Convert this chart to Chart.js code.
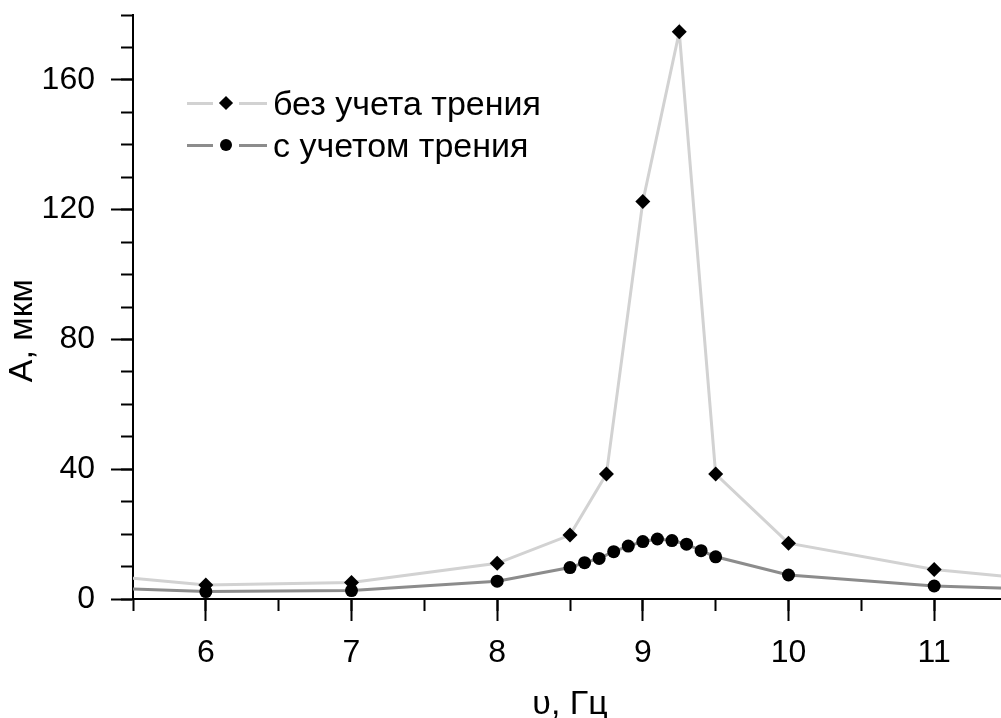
<!DOCTYPE html>
<html lang="ru">
  <head>
    <meta charset="UTF-8" />
    <title>Амплитуда колебаний</title>
    <script src="https://cdn.jsdelivr.net/npm/chart.js"></script>
    <style>
      html,
      body {
        margin: 0;
        padding: 0;
        background: #fff;
        overflow: hidden;
      }
      .wrap {
        position: relative;
        width: 1010px;
        height: 718px;
      }
      .legend {
        position: absolute;
        left: 187px;
        top: 82px;
        font-family: "Liberation Sans", Arial, sans-serif;
        font-size: 34px;
        color: #000;
      }
      .legend .row {
        display: flex;
        align-items: center;
        height: 42px;
      }
      .legend .seg {
        height: 3px;
      }
      .legend .mark {
        width: 26px;
        display: flex;
        justify-content: center;
        align-items: center;
      }
      .legend .diamond {
        width: 10px;
        height: 10px;
        background: #000;
        transform: rotate(45deg);
      }
      .legend .dot {
        width: 12px;
        height: 12px;
        border-radius: 50%;
        background: #000;
      }
      .legend .label {
        margin-left: 6px;
      }
    </style>
  </head>
  <body>
    <div class="wrap">
      <canvas id="ampChart"></canvas>
      <div class="legend">
        <div class="row">
          <div class="seg" style="width: 26px; background: #d2d2d2"></div>
          <div class="mark"><div class="diamond"></div></div>
          <div class="seg" style="width: 28px; background: #d2d2d2"></div>
          <span class="label">без учета трения</span>
        </div>
        <div class="row">
          <div class="seg" style="width: 26px; background: #8c8c8c"></div>
          <div class="mark"><div class="dot"></div></div>
          <div class="seg" style="width: 28px; background: #8c8c8c"></div>
          <span class="label">с учетом трения</span>
        </div>
      </div>
    </div>

    <script>
      // frequency, Hz (first and last entries sit on the axis limits)
      const freqFree = [5.5, 6, 7, 8, 8.5, 8.75, 9, 9.25, 9.5, 10, 11, 11.5];
      const ampFree = [6.4, 4.3, 5.1, 11.0, 19.7, 38.5, 122.5, 174.8, 38.5, 17.2, 9.1, 6.9];

      const freqFric = [5.5, 6, 7, 8, 8.5, 8.6, 8.7, 8.8, 8.9, 9.0, 9.1, 9.2, 9.3, 9.4, 9.5, 10, 11, 11.5];
      const ampFric = [3.1, 2.3, 2.6, 5.5, 9.7, 11.2, 12.5, 14.6, 16.3, 17.7, 18.5, 18.0, 16.9, 14.9, 13.0, 7.4, 4.0, 3.3];

      const X_MIN = 5.5, X_MAX = 11.5;
      const Y_MIN = 0, Y_MAX = 180;
      const xMajorTicks = [6, 7, 8, 9, 10, 11];
      const xMinorTicks = [5.5, 6, 6.5, 7, 7.5, 8, 8.5, 9, 9.5, 10, 10.5, 11, 11.5];
      const yMajorTicks = [0, 40, 80, 120, 160];
      const yMinorTicks = [0, 10, 20, 30, 40, 50, 60, 70, 80, 90, 100, 110, 120, 130, 140, 150, 160, 170, 180];

      const FONT = "'Liberation Sans', Arial, sans-serif";
      Chart.defaults.font.family = FONT;
      Chart.defaults.color = "#000";

      const toPoints = (xs, ys) => xs.map((x, i) => ({ x: x, y: ys[i] }));
      // no marker where the line just runs out to the axis limit
      const markerRadius = (r) => (ctx) =>
        ctx.raw && (ctx.raw.x <= X_MIN || ctx.raw.x >= X_MAX) ? 0 : r;
      const useTicks = (values) => (axis) => {
        axis.ticks = values.map((v) => ({ value: v }));
      };

      const majorGrid = { drawOnChartArea: false, tickLength: 22, tickWidth: 2, tickColor: "#000" };
      const minorGrid = { drawOnChartArea: false, tickLength: 12, tickWidth: 2, tickColor: "#000" };

      new Chart(document.getElementById("ampChart"), {
        type: "line",
        data: {
          datasets: [
            {
              label: "без учета трения",
              data: toPoints(freqFree, ampFree),
              borderColor: "#d2d2d2",
              borderWidth: 3,
              tension: 0,
              pointStyle: "rectRot",
              pointRadius: markerRadius(7.5),
              pointBackgroundColor: "#000",
              pointBorderWidth: 0,
            },
            {
              label: "с учетом трения",
              data: toPoints(freqFric, ampFric),
              borderColor: "#8c8c8c",
              borderWidth: 3,
              tension: 0,
              pointStyle: "circle",
              pointRadius: markerRadius(6.5),
              pointBackgroundColor: "#000",
              pointBorderWidth: 0,
            },
          ],
        },
        options: {
          responsive: true,
          maintainAspectRatio: false,
          animation: false,
          layout: { padding: { top: 15, right: 3, left: 0, bottom: 0 } },
          plugins: {
            legend: { display: false },
            tooltip: { enabled: false },
          },
          scales: {
            x: {
              type: "linear",
              position: "bottom",
              weight: 1,
              min: X_MIN,
              max: X_MAX,
              afterBuildTicks: useTicks(xMajorTicks),
              afterFit: (axis) => {
                axis.height = 119;
                axis.paddingLeft = 0;
                axis.paddingRight = 0;
              },
              grid: majorGrid,
              border: { color: "#000", width: 2 },
              ticks: { font: { size: 32, lineHeight: 1 }, padding: 16, maxRotation: 0, autoSkip: false },
              title: {
                display: true,
                text: "υ, Гц",
                font: { size: 34, lineHeight: 0.8 },
                padding: { top: 0, bottom: 0 },
              },
            },
            xMinor: {
              type: "linear",
              position: "bottom",
              weight: 0,
              min: X_MIN,
              max: X_MAX,
              afterBuildTicks: useTicks(xMinorTicks),
              afterFit: (axis) => {
                axis.height = 0;
                axis.paddingLeft = 0;
                axis.paddingRight = 0;
              },
              grid: minorGrid,
              border: { display: false },
              ticks: { display: false },
            },
            y: {
              type: "linear",
              position: "left",
              weight: 1,
              min: Y_MIN,
              max: Y_MAX,
              afterBuildTicks: useTicks(yMajorTicks),
              afterFit: (axis) => {
                axis.width = 133;
                axis.paddingTop = 0;
                axis.paddingBottom = 0;
              },
              grid: majorGrid,
              border: { color: "#000", width: 2 },
              ticks: { font: { size: 32, lineHeight: 1 }, padding: 16 },
              title: {
                display: true,
                // trailing spaces push the rotated caption a bit below the axis middle
                text: "A, мкм     ",
                font: { size: 34, lineHeight: 1 },
                padding: { top: 6, bottom: 0 },
              },
            },
            yMinor: {
              type: "linear",
              position: "left",
              weight: 0,
              min: Y_MIN,
              max: Y_MAX,
              afterBuildTicks: useTicks(yMinorTicks),
              afterFit: (axis) => {
                axis.width = 0;
                axis.paddingTop = 0;
                axis.paddingBottom = 0;
              },
              grid: minorGrid,
              border: { display: false },
              ticks: { display: false },
            },
          },
        },
      });
    </script>
  </body>
</html>
